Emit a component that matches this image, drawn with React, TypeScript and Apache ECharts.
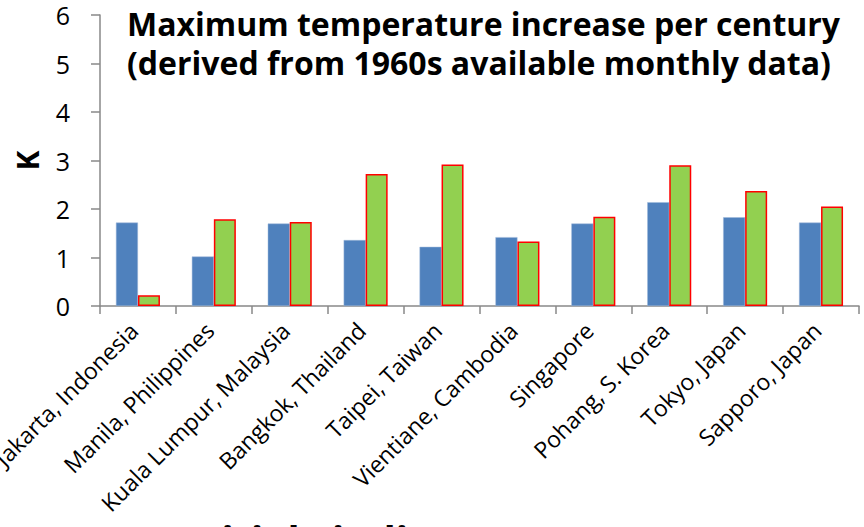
import React, { useEffect, useRef } from "react";
import * as echarts from "echarts";

const cities = [
  "Jakarta, Indonesia",
  "Manila, Philippines",
  "Kuala Lumpur, Malaysia",
  "Bangkok, Thailand",
  "Taipei, Taiwan",
  "Vientiane, Cambodia",
  "Singapore",
  "Pohang, S. Korea",
  "Tokyo, Japan",
  "Sapporo, Japan",
];

const seriesA = [1.72, 1.02, 1.7, 1.36, 1.22, 1.42, 1.7, 2.14, 1.83, 1.72];
const seriesB = [0.22, 1.79, 1.73, 2.72, 2.92, 1.33, 1.84, 2.9, 2.37, 2.05];

const titleLines = [
  "Maximum temperature increase per century",
  "(derived from 1960s available monthly data)",
];
const footerText = "Initial Findings";

const FONT = "'Open Sans', 'Noto Sans', sans-serif";
const AXIS_GRAY = "#888888";

export default function App() {
  const ref = useRef<HTMLDivElement>(null);

  useEffect(() => {
    if (!ref.current) return;
    const chart = echarts.init(ref.current, null, { renderer: "svg" });
    chart.setOption({
      animation: false,
      backgroundColor: "#ffffff",
      textStyle: { fontFamily: FONT },
      title: {
        text: titleLines.join("\n"),
        left: 127,
        top: 4,
        padding: 0,
        textStyle: {
          fontFamily: FONT,
          fontSize: 32,
          fontWeight: "bold",
          color: "#000",
          lineHeight: 39,
        },
      },
      grid: {
        left: 100,
        right: 5,
        top: 15,
        bottom: 221,
        containLabel: false,
        outerBoundsMode: "none",
      },
      xAxis: {
        type: "category",
        data: cities,
        axisLine: { show: true, lineStyle: { color: AXIS_GRAY, width: 1.5 } },
        axisTick: { show: true, length: 8, lineStyle: { color: AXIS_GRAY, width: 1.5 } },
        axisLabel: {
          interval: 0,
          rotate: 45,
          fontSize: 23,
          color: "#000",
          fontFamily: FONT,
          margin: 16,
          padding: [0, 6, 0, 0],
        },
      },
      yAxis: {
        type: "value",
        min: 0,
        max: 6,
        interval: 1,
        name: "K",
        nameLocation: "middle",
        nameGap: 58,
        nameRotate: 90,
        nameTextStyle: { fontSize: 30, fontWeight: "bold", color: "#000", fontFamily: FONT },
        axisLine: { show: true, lineStyle: { color: AXIS_GRAY, width: 1.5 } },
        axisTick: { show: true, length: 9, lineStyle: { color: AXIS_GRAY, width: 1.5 } },
        axisLabel: { fontSize: 25, color: "#000", fontFamily: FONT, margin: 30 },
        splitLine: { show: false },
      },
      series: [
        {
          type: "bar",
          data: seriesA,
          barWidth: 22,
          barGap: "0%",
          itemStyle: { color: "#4F81BD", borderColor: "#9fb9da", borderWidth: 0.5 },
        },
        {
          type: "bar",
          data: seriesB,
          barWidth: 22,
          barGap: "0%",
          itemStyle: { color: "#92D050", borderColor: "#FF0000", borderWidth: 1.5 },
        },
      ],
      graphic: [
        {
          type: "text",
          left: 182,
          top: 519,
          style: {
            text: footerText,
            fontFamily: FONT,
            fontSize: 40,
            fontWeight: "bold",
            fill: "#000",
          },
        },
      ],
    });
    return () => chart.dispose();
  }, []);

  return (
    <div
      ref={ref}
      style={{ position: "fixed", left: 0, top: 0, width: 864, height: 527 }}
    />
  );
}
